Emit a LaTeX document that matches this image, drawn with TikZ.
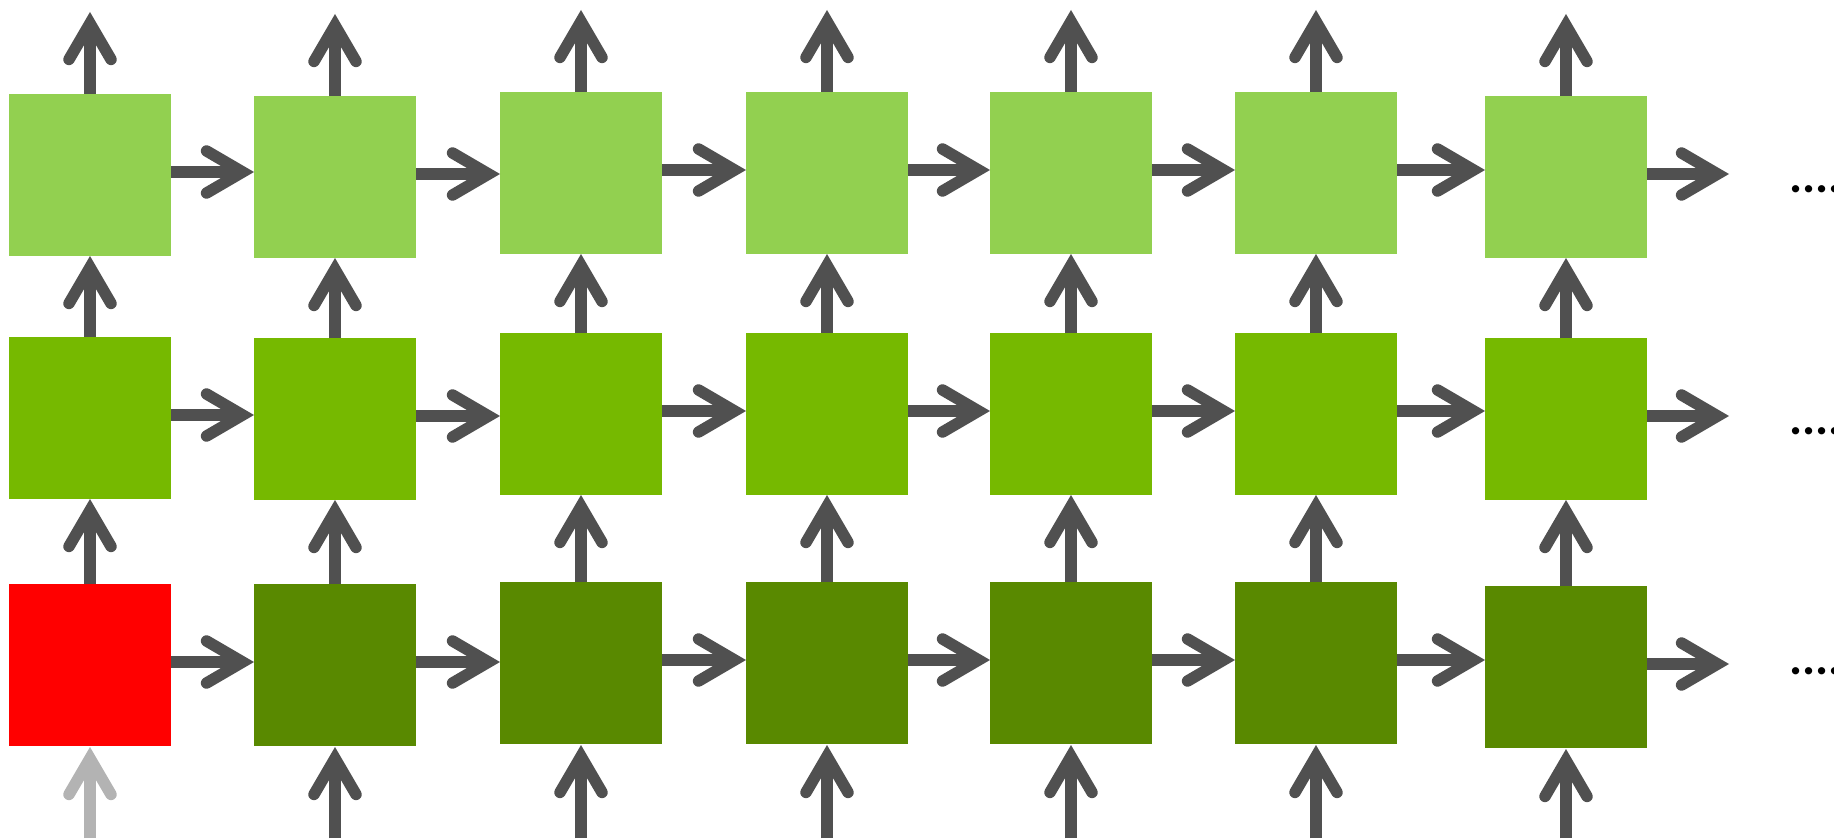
\documentclass[tikz,border=0pt]{standalone}
\usepackage{fontspec}
\setmainfont{Carlito}
\usetikzlibrary{arrows.meta,calc}
\definecolor{lightg}{HTML}{92D050}
\definecolor{midg}{HTML}{76B900}
\definecolor{darkg}{HTML}{598900}
\definecolor{arrgray}{HTML}{505050}
\definecolor{ingray}{HTML}{B3B3B3}
\tikzset{
  cell/.style={minimum width=162pt, minimum height=162pt, inner sep=0pt, outer sep=0pt, anchor=north west},
  arr/.style={draw=arrgray, line width=11.5pt, -{Straight Barb[length=36pt, width=42pt, line cap=round, line join=miter]},
    postaction={draw, -, shorten >=12pt}},
  inarr/.style={arr, draw=ingray},
  dots/.style={anchor=base west, inner sep=0pt, font=\fontsize{49}{49}\selectfont\bfseries}
}
\begin{document}
\begin{tikzpicture}[x=1pt,y=-1pt]
\useasboundingbox (0,0) rectangle (1834,840);
\foreach \c/\x/\ta/\tb/\tc/\bc in {1/9/94/337/584/red, 2/254/96/338/584/darkg, 3/500/92/333/582/darkg, 4/746/92/333/582/darkg, 5/990/92/333/582/darkg, 6/1235/92/333/582/darkg, 7/1485/96/338/586/darkg} {
  \node[cell, fill=lightg] (b1\c) at (\x,\ta) {};
  \node[cell, fill=midg] (b2\c) at (\x,\tb) {};
  \node[cell, fill=\bc] (b3\c) at (\x,\tc) {};
}
% vertical connectors
\foreach \c in {1,...,7} {
  \coordinate (o\c) at ([yshift=82pt]b1\c.north);
  \draw[arr] (b1\c.north) -- (o\c);
  \draw[arr] (b2\c.north) -- (b1\c.south);
  \draw[arr] (b3\c.north) -- (b2\c.south);
  \coordinate (i\c) at (b3\c.south |- 0,838);
}
\draw[inarr] (i1) -- ([yshift=-1pt]b31.south);
\foreach \c in {2,...,7} {
  \draw[arr] (i\c) -- ([yshift=-1pt]b3\c.south);
}
% horizontal connectors
\foreach \r in {1,2,3} {
  \foreach \c in {1,...,6} {
    \pgfmathtruncatemacro{\d}{\c+1}
    \draw[arr] ([yshift=3pt]b\r\c.east) -- ([yshift=3pt]b\r\c.east -| b\r\d.west);
  }
  \coordinate (e\r) at ([yshift=3pt, xshift=82pt]b\r7.east);
  \draw[arr] ([yshift=3pt]b\r7.east) -- (e\r);
}
\node[dots] (d1) at (1789,192.5) {.....};
\node[dots] (d2) at (1789,434.5) {.....};
\node[dots] (d3) at (1789,674.5) {.....};
\end{tikzpicture}
\end{document}
